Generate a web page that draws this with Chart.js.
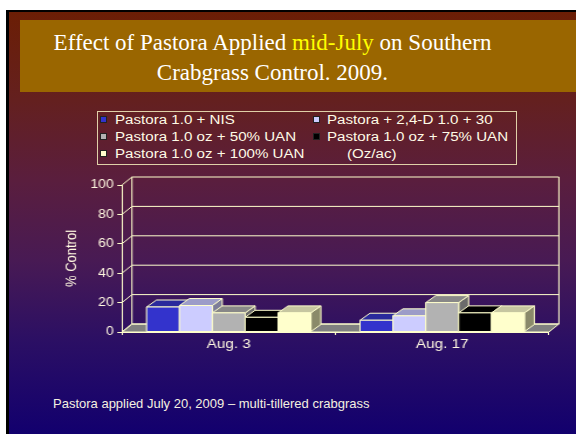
<!DOCTYPE html>
<html>
<head>
<meta charset="utf-8">
<script src="https://cdn.jsdelivr.net/npm/chart.js@4/dist/chart.umd.min.js"></script>
<style>
  html, body { margin: 0; padding: 0; background: #fff; }
  body { width: 576px; height: 434px; position: relative; overflow: hidden; font-family: "Liberation Sans", Arial, sans-serif; }
  .slide {
    position: absolute; left: 6px; top: 10px; width: 570px; height: 424px;
    box-sizing: border-box; border-left: 3px solid #000; border-top: 2px solid #000;
    background: linear-gradient(to bottom, #6b1e05 0%, #64201f 21%, #5a1e3e 40%, #481a54 59%, #2b0f64 78%, #12006e 100%);
  }
  .banner { position: absolute; left: 20px; top: 20px; width: 556px; height: 72px; background: #9a6600; }
  .title {
    position: absolute; left: 20px; top: 28px; width: 505px; text-align: center;
    font-family: "Liberation Serif", "Times New Roman", serif; font-size: 23px; line-height: 30px; color: #fff;
  }
  .title .hl { color: #ffff00; }
  .legend-box { position: absolute; left: 97px; top: 111px; width: 420px; height: 54px; box-sizing: border-box; border: 1px solid #e0d0a8; }
  .lg-swatch { position: absolute; width: 7px; height: 7px; box-sizing: border-box; border: 1px solid #222; }
  .lg-text {
    position: absolute; font-size: 12px; line-height: 17px; color: #fffbe6; white-space: nowrap;
    transform: scaleX(1.26); transform-origin: left center;
  }
  .note { position: absolute; left: 53px; top: 396px; font-size: 13px; line-height: 15px; color: #f4f0e0; white-space: nowrap; }
  .chart-wrap { position: absolute; left: 0; top: 0; width: 492px; height: 434px; transform: scaleX(1.1707); transform-origin: 0 0; }
</style>
</head>
<body>
<div class="slide"></div>
<div class="banner"></div>
<div class="title">Effect of Pastora Applied <span class="hl">mid-July</span> on Southern<br>Crabgrass Control. 2009.</div>
<div class="legend-box"></div>
<div id="legend"></div>
<div class="note">Pastora applied July 20, 2009 – multi-tillered crabgrass</div>
<div class="chart-wrap"><canvas id="chart"></canvas></div>

<script>
// data
var categories = ["Aug. 3", "Aug. 17"];
var seriesNames = [
  "Pastora 1.0 + NIS",
  "Pastora + 2,4-D 1.0 + 30",
  "Pastora 1.0 oz + 50% UAN",
  "Pastora 1.0 oz + 75% UAN",
  "Pastora 1.0 oz + 100% UAN",
];
var pastoraNis = [17, 8];
var pastora24d = [18, 11];
var pastoraUan50 = [13, 20];
var pastoraUan75 = [10, 13];
var pastoraUan100 = [13, 13];
var yTicks = [0, 20, 40, 60, 80, 100];
var unitNote = "(Oz/ac)";

var frontColors = ["#3333cc", "#ccccff", "#b2b2b2", "#000000", "#ffffcc"];
var topColors = ["#2a2a9c", "#9c9cc8", "#888888", "#000000", "#c6c6a0"];
var sideColors = ["#1f1f73", "#7d7d99", "#6b6b6b", "#000000", "#8a8a6a"];
var CREAM = "#ffffcc";

var DX = 8.5, DY = 8;   // wall depth
var BDX = 8.5, BDY = 7; // bar depth

// html legend, 2 columns
var legend = document.getElementById("legend");
var colSwatch = [99.5, 312.5], colText = [115, 327];
seriesNames.forEach(function (name, i) {
  var row = Math.floor(i / 2), col = i % 2;
  var sw = document.createElement("div");
  sw.className = "lg-swatch";
  sw.style.left = colSwatch[col] + "px";
  sw.style.top = 115.5 + row * 17.3 + "px";
  sw.style.background = frontColors[i];
  legend.appendChild(sw);
  var tx = document.createElement("div");
  tx.className = "lg-text";
  tx.style.left = colText[col] + "px";
  tx.style.top = 111.8 + row * 17.3 + "px";
  tx.textContent = name;
  legend.appendChild(tx);
});
var oz = document.createElement("div");
oz.className = "lg-text";
oz.style.left = "347px";
oz.style.top = 111.8 + 2 * 17.3 + "px";
oz.textContent = unitNote;
legend.appendChild(oz);

function line(ctx, x1, y1, x2, y2) {
  ctx.beginPath();
  ctx.moveTo(x1, y1);
  ctx.lineTo(x2, y2);
  ctx.stroke();
}

function poly(ctx, pts, fill) {
  ctx.beginPath();
  ctx.moveTo(pts[0][0], pts[0][1]);
  for (var k = 1; k < pts.length; k++) ctx.lineTo(pts[k][0], pts[k][1]);
  ctx.closePath();
  ctx.fillStyle = fill;
  ctx.fill();
  ctx.stroke();
}

var box3d = {
  id: "box3d",
  beforeDatasetsDraw: function (chart) {
    var ctx = chart.ctx, a = chart.chartArea, y = chart.scales.y;
    ctx.save();
    ctx.strokeStyle = CREAM;
    ctx.lineWidth = 1;
    // floor
    poly(ctx, [[a.left, a.bottom], [a.right, a.bottom], [a.right + DX, a.bottom - DY], [a.left + DX, a.bottom - DY]], "#808080");
    // back wall gridlines and side wall lines
    y.ticks.forEach(function (t) {
      var py = y.getPixelForValue(t.value);
      line(ctx, a.left + DX, py - DY, a.right + DX, py - DY);
      line(ctx, a.left, py, a.left + DX, py - DY);
    });
    line(ctx, a.left + DX, a.top - DY, a.left + DX, a.bottom - DY);
    line(ctx, a.right + DX, a.top - DY, a.right + DX, a.bottom - DY);
    ctx.restore();
  },
  afterDatasetsDraw: function (chart) {
    var ctx = chart.ctx;
    ctx.save();
    ctx.strokeStyle = CREAM;
    ctx.lineWidth = 1;
    for (var j = 0; j < categories.length; j++) {
      for (var i = 0; i < chart.data.datasets.length; i++) {
        var el = chart.getDatasetMeta(i).data[j];
        var p = el.getProps(["x", "y", "base", "width"], true);
        var l = p.x - p.width / 2, r = p.x + p.width / 2;
        poly(ctx, [[r, p.y], [r + BDX, p.y - BDY], [r + BDX, p.base - BDY], [r, p.base]], sideColors[i]);
        poly(ctx, [[l, p.y], [l + BDX, p.y - BDY], [r + BDX, p.y - BDY], [r, p.y]], topColors[i]);
        poly(ctx, [[l, p.y], [r, p.y], [r, p.base], [l, p.base]], frontColors[i]);
      }
    }
    ctx.restore();
  },
};

var seriesData = [pastoraNis, pastora24d, pastoraUan50, pastoraUan75, pastoraUan100];

var ctx = document.getElementById("chart").getContext("2d");

new Chart(ctx, {
  type: "bar",
  data: {
    labels: categories,
    datasets: seriesData.map(function (d, i) {
      return {
        label: seriesNames[i],
        data: d,
        backgroundColor: frontColors[i],
        borderColor: CREAM,
        borderWidth: 1,
        borderSkipped: false,
        barPercentage: 1.0,
        categoryPercentage: 0.77,
      };
    }),
  },
  options: {
    responsive: true,
    maintainAspectRatio: false,
    animation: false,
    layout: {
      padding: { left: 0, right: 23.1, top: 185, bottom: 0 },
    },
    plugins: {
      legend: { display: false },
      tooltip: { enabled: false },
    },
    scales: {
      x: {
        afterFit: function (scale) {
          scale.height = 102;
        },
        grid: {
          display: true,
          drawOnChartArea: false,
          drawTicks: true,
          tickLength: 3,
          color: CREAM,
          offset: true,
        },
        border: { color: CREAM, width: 1 },
        ticks: {
          padding: 2,
          color: "#fff8e0",
          font: { size: 13, family: "Liberation Sans" },
        },
      },
      y: {
        min: 0,
        max: 100,
        afterFit: function (scale) {
          scale.width = 104.2;
        },
        afterBuildTicks: function (scale) {
          scale.ticks = yTicks.map(function (v) {
            return { value: v };
          });
        },
        grid: {
          display: true,
          drawOnChartArea: false,
          drawTicks: true,
          tickLength: 4,
          color: CREAM,
        },
        border: { color: CREAM, width: 1 },
        ticks: {
          padding: 3,
          color: "#fff8e0",
          font: { size: 12, family: "Liberation Sans" },
        },
        title: {
          display: true,
          text: "% Control",
          color: "#fff8e0",
          padding: { top: 53.7, bottom: 0 },
          font: { size: 13, family: "Liberation Sans" },
        },
      },
    },
  },
  plugins: [box3d],
});
</script>
</body>
</html>
